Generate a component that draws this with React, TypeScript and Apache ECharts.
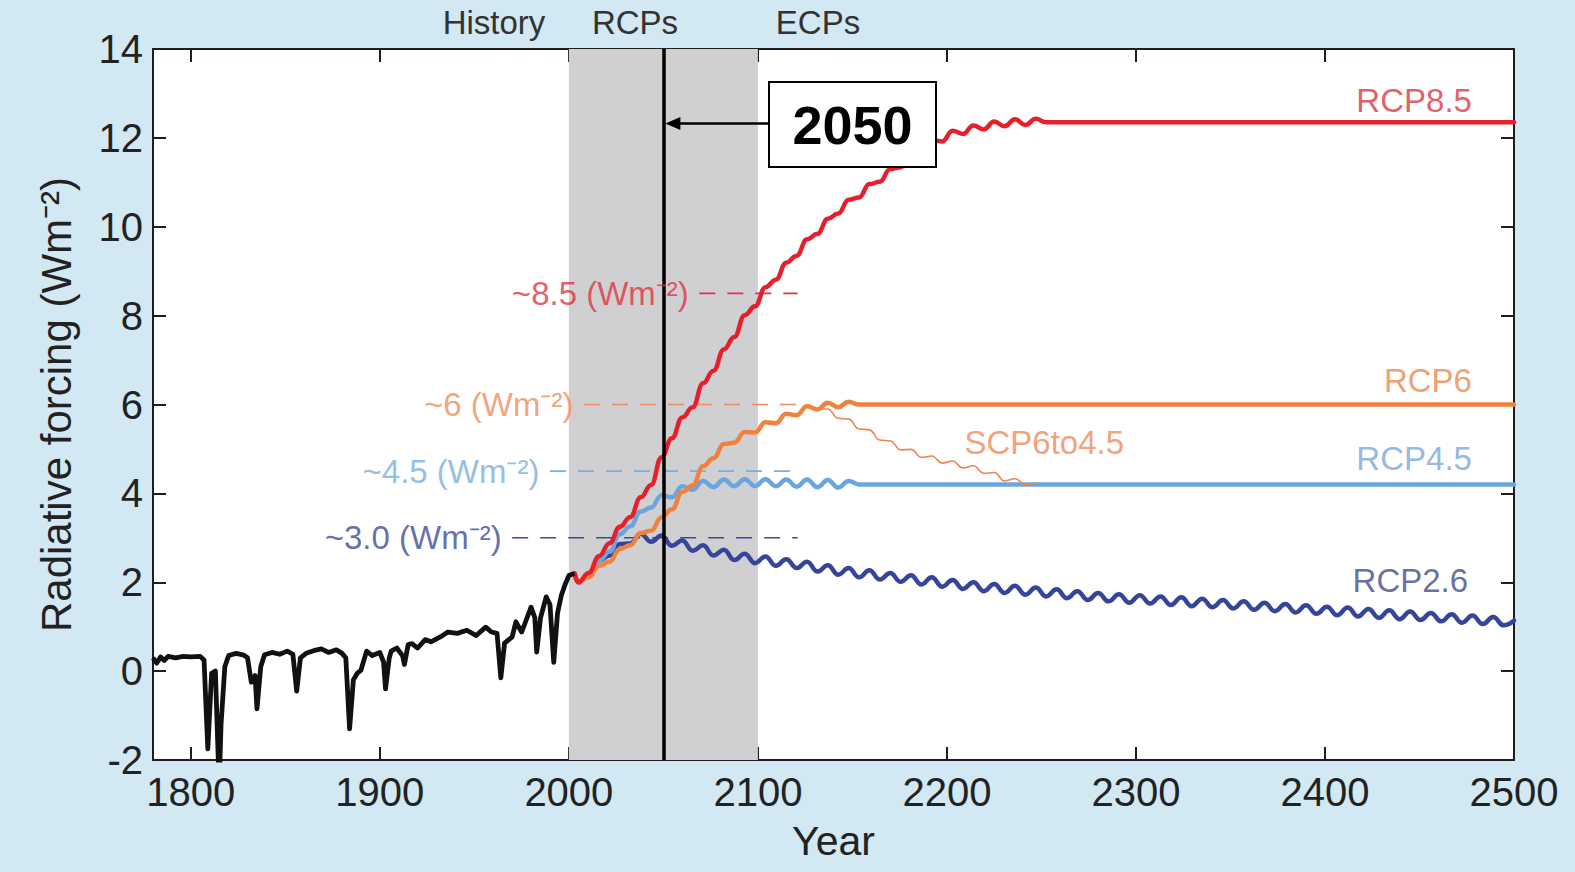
import React, { useEffect, useRef } from "react";
import * as echarts from "echarts";

// ---------- DATA ----------
const xTicks = [1800, 1900, 2000, 2100, 2200, 2300, 2400, 2500];

const historyYears = [1780, 1782, 1784, 1786, 1788, 1792, 1796, 1800, 1805, 1807, 1809, 1811, 1813, 1815, 1816, 1818, 1820, 1824, 1828, 1830, 1832, 1834, 1835, 1837, 1839, 1843, 1847, 1851, 1854, 1856, 1858, 1861, 1865, 1869, 1873, 1877, 1880, 1882, 1884, 1886, 1888, 1890, 1893, 1896, 1900, 1902, 1903, 1905, 1906, 1909, 1912, 1913, 1915, 1917, 1920, 1924, 1927, 1932, 1936, 1941, 1946, 1951, 1956, 1959, 1962, 1964, 1966, 1970, 1972, 1975, 1977, 1980, 1982, 1983, 1985, 1988, 1990, 1992, 1994, 1996, 1998, 2000, 2003];
const historyValues = [0.30, 0.18, 0.32, 0.24, 0.33, 0.30, 0.33, 0.32, 0.33, 0.25, -1.75, -0.05, 0.00, -2.60, -1.20, 0.10, 0.35, 0.40, 0.36, 0.30, -0.25, -0.10, -0.85, 0.10, 0.37, 0.42, 0.38, 0.45, 0.38, -0.45, 0.30, 0.40, 0.46, 0.50, 0.42, 0.48, 0.40, 0.30, -1.30, -0.20, -0.05, 0.02, 0.45, 0.35, 0.42, 0.20, -0.40, 0.30, 0.45, 0.52, 0.35, 0.15, 0.60, 0.62, 0.52, 0.71, 0.66, 0.77, 0.88, 0.85, 0.92, 0.80, 0.99, 0.88, 0.85, -0.15, 0.63, 0.77, 1.11, 0.88, 1.10, 1.44, 1.20, 0.43, 1.20, 1.67, 1.50, 0.20, 1.30, 1.70, 1.95, 2.15, 2.20];

// scenario start point (joins the historical record)
const scenarioStart = [2003, 2.2];

// half solar-cycle sampling years for the scenario curves
const cycleYears = [2005, 2010.5, 2016, 2021.5, 2027, 2032.5, 2038, 2043.5, 2049, 2054.5, 2060, 2065.5, 2071, 2076.5, 2082, 2087.5, 2093, 2098.5, 2104, 2109.5, 2115, 2120.5, 2126, 2131.5, 2137, 2142.5, 2148, 2153.5, 2159, 2164.5, 2170, 2175.5, 2181, 2186.5, 2192, 2197.5, 2203, 2208.5, 2214, 2219.5, 2225, 2230.5, 2236, 2241.5, 2247, 2252.5, 2258, 2263.5, 2269, 2274.5, 2280, 2285.5, 2291, 2296.5, 2302, 2307.5, 2313, 2318.5, 2324, 2329.5, 2335, 2340.5, 2346, 2351.5, 2357, 2362.5, 2368, 2373.5, 2379, 2384.5, 2390, 2395.5, 2401, 2406.5, 2412, 2417.5, 2423, 2428.5, 2434, 2439.5, 2445, 2450.5, 2456, 2461.5, 2467, 2472.5, 2478, 2483.5, 2489, 2494.5, 2500];

const rcp85Values = [2.00, 2.21, 2.59, 2.88, 3.25, 3.47, 3.91, 4.19, 4.81, 5.24, 5.71, 5.94, 6.48, 6.76, 7.24, 7.52, 8.01, 8.21, 8.64, 8.81, 9.19, 9.35, 9.72, 9.84, 10.18, 10.30, 10.61, 10.66, 10.96, 11.01, 11.30, 11.34, 11.62, 11.66, 11.95, 11.92, 12.16, 12.09, 12.28, 12.19, 12.37, 12.26, 12.42, 12.29, 12.43];
const rcp85Plateau = 12.35;

const rcp6Values = [2.00, 2.11, 2.37, 2.46, 2.75, 2.83, 3.11, 3.16, 3.46, 3.64, 4.03, 4.18, 4.61, 4.79, 5.11, 5.14, 5.38, 5.37, 5.60, 5.58, 5.79, 5.76, 5.96, 5.89, 6.04, 5.94, 6.06];
const rcp6Plateau = 6.0;

const rcp45Values = [2.00, 2.18, 2.49, 2.69, 3.08, 3.26, 3.59, 3.68, 3.96, 3.91, 4.16, 4.08, 4.28, 4.14, 4.31, 4.16, 4.32, 4.16, 4.32, 4.16, 4.31, 4.15, 4.31, 4.14, 4.30, 4.13, 4.28];
const rcp45Plateau = 4.2;

const rcp26Values = [2.00, 2.17, 2.49, 2.60, 2.86, 2.87, 3.09, 2.91, 3.05, 2.82, 2.94, 2.71, 2.83, 2.60, 2.73, 2.50, 2.64, 2.43, 2.58, 2.37, 2.52, 2.32, 2.46, 2.24, 2.38, 2.17, 2.32, 2.11, 2.27, 2.06, 2.21, 2.01, 2.16, 1.95, 2.11, 1.90, 2.05, 1.85, 2.00, 1.80, 1.96, 1.76, 1.92, 1.72, 1.88, 1.68, 1.84, 1.64, 1.80, 1.60, 1.76, 1.57, 1.73, 1.54, 1.71, 1.52, 1.68, 1.49, 1.66, 1.46, 1.63, 1.44, 1.60, 1.41, 1.57, 1.38, 1.54, 1.35, 1.51, 1.32, 1.48, 1.29, 1.45, 1.26, 1.43, 1.23, 1.40, 1.20, 1.37, 1.17, 1.34, 1.15, 1.31, 1.12, 1.28, 1.09, 1.25, 1.06, 1.22, 1.03, 1.14];

const scpStartIndex = 23; // begins at cycleYears[23]
const scpValues = [5.90, 5.90, 5.69, 5.67, 5.45, 5.43, 5.20, 5.18, 4.98, 4.99, 4.81, 4.84, 4.68, 4.73, 4.57, 4.62, 4.45, 4.47, 4.28, 4.33, 4.20, 4.23];

const refLines = [
  { text: "~8.5 (Wm⁻²)", value: 8.5, from: 2069, to: 2121, color: "#e03440" },
  { text: "~6 (Wm⁻²)", value: 6.0, from: 2008, to: 2121, color: "#f08d5c" },
  { text: "~4.5 (Wm⁻²)", value: 4.5, from: 1990, to: 2121, color: "#7aaedd" },
  { text: "~3.0 (Wm⁻²)", value: 3.0, from: 1970, to: 2121, color: "#3d4b96" },
];

const curveLabels = [
  { text: "RCP8.5", year: 2478, value: 12.84, color: "#dc3540", side: "left" },
  { text: "RCP6", year: 2478, value: 6.55, color: "#ee8650", side: "left" },
  { text: "RCP4.5", year: 2478, value: 4.79, color: "#78a8da", side: "left" },
  { text: "RCP2.6", year: 2476, value: 2.03, color: "#3e4a88", side: "left" },
  { text: "SCP6to4.5", year: 2209, value: 5.15, color: "#ee8a55", side: "right" },
];

const bandStart = 2000;
const bandEnd = 2100;
const markYear = 2050;

// ---------- STYLE ----------
const FONT = "'Liberation Sans', Arial, Helvetica, sans-serif";
const AXIS_COLOR = "#1e1e1e";
const BG = "#d2e8f2";

function withPlateau(values: number[], plateau: number | null, start = 0, lead = true) {
  const d: number[][] = [];
  if (lead) d.push([scenarioStart[0], scenarioStart[1]]);
  values.forEach((v, i) => d.push([cycleYears[start + i], v]));
  if (plateau !== null) {
    d.push([cycleYears[start + values.length], plateau]);
    d.push([2500, plateau]);
  }
  return d;
}

function buildOption() {
  const axisLine = { show: true, onZero: false, lineStyle: { color: AXIS_COLOR, width: 2 } };
  const tick = { show: true, inside: true, length: 13, lineStyle: { color: AXIS_COLOR, width: 2 } };
  const curve = (name: string, data: number[][], color: string, width: number, z: number) => ({
    name,
    type: "line",
    data,
    smooth: 0.45,
    smoothMonotone: "x",
    showSymbol: false,
    symbol: "none",
    z,
    lineStyle: { color, width, cap: "round", join: "round" },
  });

  return {
    animation: false,
    backgroundColor: BG,
    grid: { left: 153, right: 61, top: 49, bottom: 112, show: true, backgroundColor: "#ffffff", borderWidth: 0 },
    xAxis: [
      {
        type: "value",
        min: 1780,
        max: 2500,
        position: "bottom",
        splitLine: { show: false },
        axisLine,
        axisTick: { ...tick, customValues: xTicks },
        axisLabel: {
          customValues: xTicks,
          formatter: (v: number) => String(v),
          fontSize: 40,
          color: "#222",
          margin: 12,
          fontFamily: FONT,
        },
        name: "Year",
        nameLocation: "middle",
        nameGap: 60,
        nameTextStyle: { fontSize: 41, color: "#222", fontFamily: FONT },
      },
      {
        type: "value",
        min: 1780,
        max: 2500,
        position: "top",
        splitLine: { show: false },
        axisLine,
        axisTick: { ...tick, customValues: xTicks },
        axisLabel: { show: false },
      },
    ],
    yAxis: [
      {
        type: "value",
        min: -2,
        max: 14,
        interval: 2,
        position: "left",
        splitLine: { show: false },
        axisLine,
        axisTick: tick,
        axisLabel: { fontSize: 40, color: "#222", margin: 10, fontFamily: FONT },
        name: "Radiative forcing (Wm⁻²)",
        nameLocation: "middle",
        nameGap: 76,
        nameRotate: 90,
        nameTextStyle: { fontSize: 42, color: "#222", fontFamily: FONT },
      },
      {
        type: "value",
        min: -2,
        max: 14,
        interval: 2,
        position: "right",
        splitLine: { show: false },
        axisLine,
        axisTick: tick,
        axisLabel: { show: false },
      },
    ],
    series: [
      {
        name: "band",
        type: "line",
        data: [],
        z: 1,
        markArea: {
          silent: true,
          itemStyle: { color: "#d0d0d2" },
          data: [[{ xAxis: bandStart }, { xAxis: bandEnd }]],
        },
      },
      ...refLines.map((r) => ({
        name: r.text,
        type: "line",
        data: [
          [r.from, r.value],
          [r.to, r.value],
        ],
        showSymbol: false,
        symbol: "none",
        z: 2,
        lineStyle: { color: r.color, width: 1.6, type: [16, 12] },
      })),
      curve("RCP2.6", withPlateau(rcp26Values, null), "#34459a", 4.5, 3),
      curve("RCP4.5", withPlateau(rcp45Values, rcp45Plateau), "#6aa6dd", 4.5, 3),
      curve("RCP6", withPlateau(rcp6Values, rcp6Plateau), "#f08240", 4.5, 3),
      curve("SCP6to4.5", withPlateau(scpValues, null, scpStartIndex, false), "#ef8450", 1.6, 3),
      curve("RCP8.5", withPlateau(rcp85Values, rcp85Plateau), "#e5202b", 4.5, 3),
      {
        name: "History",
        type: "line",
        data: historyYears.map((y, i) => [y, historyValues[i]]),
        showSymbol: false,
        symbol: "none",
        z: 4,
        lineStyle: { color: "#111", width: 4.8, join: "round" },
      },
      {
        name: "year2050",
        type: "line",
        data: [],
        z: 5,
        markLine: {
          silent: true,
          symbol: ["none", "none"],
          label: { show: false },
          lineStyle: { color: "#000", width: 3.5, type: "solid" },
          data: [{ xAxis: markYear }],
        },
      },
      {
        name: "labels",
        type: "scatter",
        symbol: "circle",
        symbolSize: 1,
        z: 6,
        silent: true,
        itemStyle: { color: "rgba(0,0,0,0)" },
        data: [
          ...refLines.map((r) => ({
            value: [r.from, r.value],
            label: {
              show: true,
              formatter: r.text,
              position: "left",
              distance: 10,
              color: r.color,
              fontSize: 33,
              fontFamily: FONT,
            },
          })),
          ...curveLabels.map((c) => ({
            value: [c.year, c.value],
            label: {
              show: true,
              formatter: c.text,
              position: c.side,
              distance: 0,
              color: c.color,
              fontSize: 33,
              fontFamily: FONT,
            },
          })),
        ],
      },
    ],
  };
}

function buildGraphic(x2050: number) {
  const arrowY = 123.5;
  const boxX = 769;
  return [
    { type: "text", x: 494, y: 22, z: 100, style: { text: "History", fontSize: 33, fontFamily: FONT, fill: "#333", align: "center", verticalAlign: "middle" } },
    { type: "text", x: 635, y: 22, z: 100, style: { text: "RCPs", fontSize: 33, fontFamily: FONT, fill: "#333", align: "center", verticalAlign: "middle" } },
    { type: "text", x: 818, y: 22, z: 100, style: { text: "ECPs", fontSize: 33, fontFamily: FONT, fill: "#333", align: "center", verticalAlign: "middle" } },
    { type: "line", z: 100, shape: { x1: boxX, y1: arrowY, x2: x2050 + 12, y2: arrowY }, style: { stroke: "#000", lineWidth: 2.5 } },
    { type: "polygon", z: 100, shape: { points: [[x2050 + 2, arrowY], [x2050 + 17, arrowY - 6.5], [x2050 + 17, arrowY + 6.5]] }, style: { fill: "#000" } },
    { type: "rect", z: 100, shape: { x: boxX, y: 82, width: 167, height: 85 }, style: { fill: "#fff", stroke: "#000", lineWidth: 2 } },
    { type: "text", z: 101, x: boxX + 83.5, y: 125, style: { text: "2050", fontSize: 54, fontWeight: "bold", fontFamily: FONT, fill: "#000", align: "center", verticalAlign: "middle" } },
  ];
}

export default function App() {
  const ref = useRef<HTMLDivElement>(null);
  useEffect(() => {
    if (!ref.current) return;
    const chart = echarts.init(ref.current, null, { renderer: "svg" });
    chart.setOption(buildOption() as any);
    const x2050 = chart.convertToPixel({ xAxisIndex: 0 } as any, markYear) as unknown as number;
    chart.setOption({ graphic: buildGraphic(x2050) } as any);
    return () => chart.dispose();
  }, []);
  return (
    <div
      ref={ref}
      style={{ position: "fixed", left: 0, top: 0, width: 1575, height: 872, background: BG }}
    />
  );
}
